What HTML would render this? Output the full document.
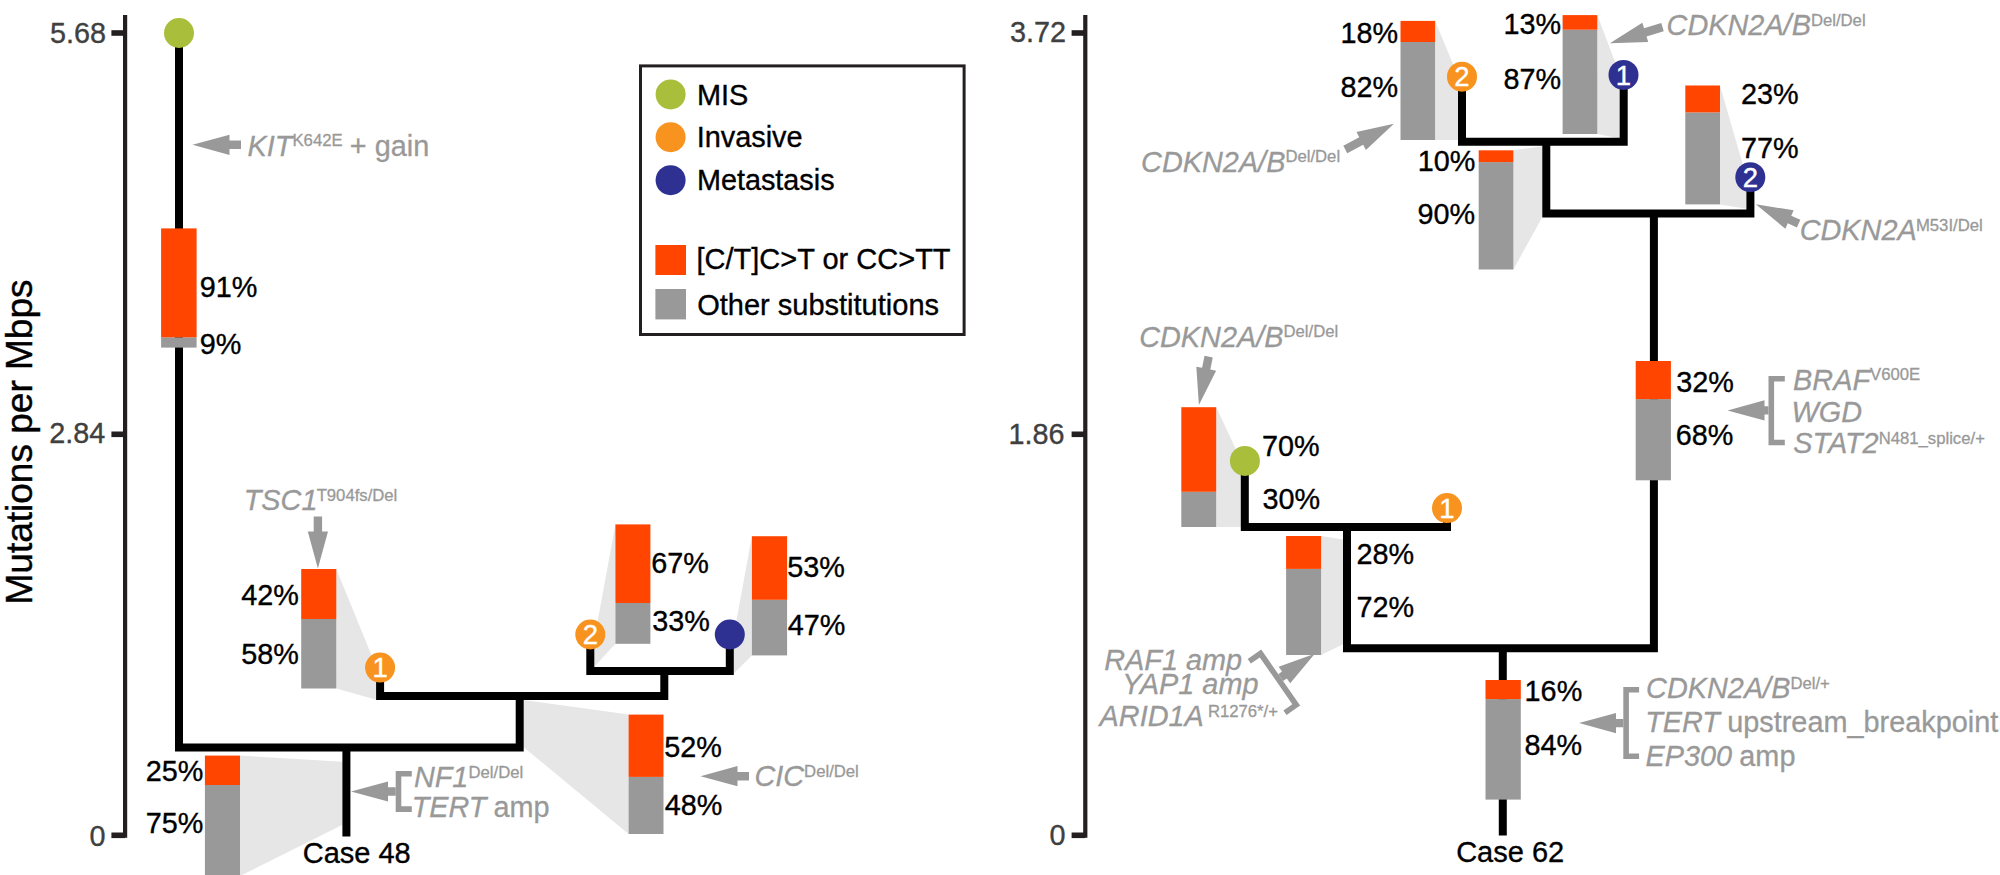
<!DOCTYPE html>
<html lang="en">
<head>
<meta charset="utf-8">
<title>Phylogenetic trees - Case 48 and Case 62</title>
<style>
html,body{margin:0;padding:0;background:#fff;}
body{width:2000px;height:875px;overflow:hidden;}
svg{display:block;font-family:"Liberation Sans",Arial,Helvetica,sans-serif;}
</style>
</head>
<body>
<svg width="2000" height="875" viewBox="0 0 2000 875">
<rect width="2000" height="875" fill="#ffffff"/>
<polygon fill="#e6e6e6" points="240,755.6 342.6,761.8 342.6,824.7 240,876"/>
<polygon fill="#e6e6e6" points="336.3,569 376.3,667 376.3,699.7 336.3,688.5"/>
<polygon fill="#e6e6e6" points="523.5,700 628.6,714.6 628.6,834 523.5,747"/>
<polygon fill="#e6e6e6" points="615.4,524.4 615.4,643.8 594,667 594,641"/>
<polygon fill="#e6e6e6" points="751.9,536.2 751.9,655.4 733.6,673.5 733.6,636"/>
<path d="M179,32.7 V747.6 H519.7 V695.9" fill="none" stroke="#000" stroke-width="8" stroke-linejoin="miter" stroke-linecap="butt"/>
<path d="M380.1,667.6 V695.9 H664.3 V670.7" fill="none" stroke="#000" stroke-width="8" stroke-linejoin="miter" stroke-linecap="butt"/>
<path d="M590.3,634.5 V670.9 H729.8 V634.5" fill="none" stroke="#000" stroke-width="8" stroke-linejoin="miter" stroke-linecap="butt"/>
<path d="M346.4,747.6 V836.5" fill="none" stroke="#000" stroke-width="8" stroke-linejoin="miter" stroke-linecap="butt"/>
<rect x="161.1" y="337.3" width="35.5" height="10.3" fill="#999999"/>
<rect x="161.1" y="228.4" width="35.5" height="108.9" fill="#ff4500"/>
<rect x="301.2" y="619" width="35.1" height="69.5" fill="#999999"/>
<rect x="301.2" y="569" width="35.1" height="50" fill="#ff4500"/>
<rect x="204.9" y="785" width="35.1" height="91" fill="#999999"/>
<rect x="204.9" y="755.6" width="35.1" height="29.4" fill="#ff4500"/>
<rect x="615.4" y="603" width="35" height="40.8" fill="#999999"/>
<rect x="615.4" y="524.4" width="35" height="78.6" fill="#ff4500"/>
<rect x="751.9" y="599.8" width="35.2" height="55.6" fill="#999999"/>
<rect x="751.9" y="536.2" width="35.2" height="63.6" fill="#ff4500"/>
<rect x="628.6" y="776.9" width="34.9" height="57.1" fill="#999999"/>
<rect x="628.6" y="714.6" width="34.9" height="62.3" fill="#ff4500"/>
<circle cx="179" cy="33" r="15" fill="#a9be3b"/>
<circle cx="380.1" cy="667.6" r="15" fill="#f7931e"/>
<text x="380.1" y="677.3" font-size="27.5" fill="#fff" stroke="#fff" stroke-width="0.4" text-anchor="middle">1</text>
<circle cx="590.3" cy="634.5" r="15" fill="#f7931e"/>
<text x="590.3" y="644.2" font-size="27.5" fill="#fff" stroke="#fff" stroke-width="0.4" text-anchor="middle">2</text>
<circle cx="729.8" cy="634.5" r="15" fill="#2e3192"/>
<path d="M125.1,15 V837.8" fill="none" stroke="#231f20" stroke-width="4.2" stroke-linejoin="miter" stroke-linecap="butt"/>
<path d="M111.4,33 H125.1" fill="none" stroke="#231f20" stroke-width="5.6" stroke-linejoin="miter" stroke-linecap="butt"/>
<path d="M111.4,434.3 H125.1" fill="none" stroke="#231f20" stroke-width="5.6" stroke-linejoin="miter" stroke-linecap="butt"/>
<path d="M111.4,835.3 H125.1" fill="none" stroke="#231f20" stroke-width="5.6" stroke-linejoin="miter" stroke-linecap="butt"/>
<text x="49.95" y="42.5" font-size="28.8" fill="#404040" stroke="#404040" stroke-width="0.35">5.68</text>
<text x="49.15" y="443.4" font-size="28.8" fill="#404040" stroke="#404040" stroke-width="0.35">2.84</text>
<text x="89.38" y="845.5" font-size="28.8" fill="#404040" stroke="#404040" stroke-width="0.35">0</text>
<text transform="translate(32.2 442) rotate(-90)" font-size="37" text-anchor="middle" fill="#000" stroke="#000" stroke-width="0.4">Mutations per Mbps</text>
<text x="199.65" y="296.8" font-size="28.8" fill="#000" stroke="#000" stroke-width="0.35">91%</text>
<text x="199.65" y="353.8" font-size="28.8" fill="#000" stroke="#000" stroke-width="0.35">9%</text>
<text x="241.28" y="605" font-size="28.8" fill="#000" stroke="#000" stroke-width="0.35">42%</text>
<text x="241.28" y="664.3" font-size="28.8" fill="#000" stroke="#000" stroke-width="0.35">58%</text>
<text x="145.78" y="781.4" font-size="28.8" fill="#000" stroke="#000" stroke-width="0.35">25%</text>
<text x="145.78" y="832.9" font-size="28.8" fill="#000" stroke="#000" stroke-width="0.35">75%</text>
<text x="651.14" y="572.9" font-size="28.8" fill="#000" stroke="#000" stroke-width="0.35">67%</text>
<text x="652.2" y="630.6" font-size="28.8" fill="#000" stroke="#000" stroke-width="0.35">33%</text>
<text x="787.25" y="577.2" font-size="28.8" fill="#000" stroke="#000" stroke-width="0.35">53%</text>
<text x="787.74" y="634.5" font-size="28.8" fill="#000" stroke="#000" stroke-width="0.35">47%</text>
<text x="664.35" y="757" font-size="28.8" fill="#000" stroke="#000" stroke-width="0.35">52%</text>
<text x="664.84" y="814.8" font-size="28.8" fill="#000" stroke="#000" stroke-width="0.35">48%</text>
<text x="302.73" y="863.4" font-size="29" fill="#000" stroke="#000" stroke-width="0.35">Case 48</text>
<polygon fill="#999999" transform="translate(192.5 144.8) rotate(0)" points="0,0 37,-10.1 37,-4.2 48.5,-4.2 48.5,4.2 37,4.2 37,10.1"/>
<text x="247.61" y="155.7" font-size="28.85" fill="#999999" stroke="#999999" stroke-width="0.3" xml:space="preserve"><tspan font-style="italic">KIT</tspan><tspan font-size="16.7" dy="-9.3">K642E</tspan><tspan dy="9.3" dx="-0.8"> + gain</tspan></text>
<polygon fill="#999999" transform="translate(317.9 568.5) rotate(-90)" points="0,0 37,-10.1 37,-4.2 52,-4.2 52,4.2 37,4.2 37,10.1"/>
<text x="243.71" y="509.9" font-size="28.85" fill="#999999" stroke="#999999" stroke-width="0.3" xml:space="preserve"><tspan font-style="italic">TSC1</tspan><tspan font-size="16.7" dy="-9.3" dx="-0.8">T904fs/Del</tspan></text>
<polygon fill="#999999" points="351,791.5 388,781.4 388,787.3 395.7,787.3 395.7,795.7 388,795.7 388,801.6"/>
<path fill="#999999" d="M395.7,771 H411.8 V776.6 H401.3 V806.3 H411.8 V811.9 H395.7 Z"/>
<text x="413.91" y="787.4" font-size="28.85" fill="#999999" stroke="#999999" stroke-width="0.3" xml:space="preserve"><tspan font-style="italic">NF1</tspan><tspan font-size="16.7" dy="-9.3" dx="0.1">Del/Del</tspan></text>
<text x="411.71" y="816.6" font-size="28.85" fill="#999999" stroke="#999999" stroke-width="0.3" xml:space="preserve"><tspan font-style="italic">TERT</tspan><tspan dx="-1.1"> amp</tspan></text>
<polygon fill="#999999" transform="translate(700.5 776.2) rotate(0)" points="0,0 37,-10.1 37,-4.2 48.5,-4.2 48.5,4.2 37,4.2 37,10.1"/>
<text x="754.41" y="786.2" font-size="28.85" fill="#999999" stroke="#999999" stroke-width="0.3" xml:space="preserve"><tspan font-style="italic">CIC</tspan><tspan font-size="16.7" dy="-9.3">Del/Del</tspan></text>
<rect x="640.5" y="65.9" width="323.6" height="268.6" fill="none" stroke="#231f20" stroke-width="3"/>
<circle cx="670.6" cy="94.4" r="15" fill="#a9be3b"/>
<circle cx="670.6" cy="137.2" r="15" fill="#f7931e"/>
<circle cx="670.6" cy="180.2" r="15" fill="#2e3192"/>
<rect x="655.4" y="245" width="30.6" height="30" fill="#ff4500"/>
<rect x="655.4" y="289" width="30.6" height="30.4" fill="#999999"/>
<text x="696.93" y="105" font-size="28.9" fill="#000" stroke="#000" stroke-width="0.35">MIS</text>
<text x="696.63" y="147.4" font-size="28.9" fill="#000" stroke="#000" stroke-width="0.35">Invasive</text>
<text x="696.94" y="190" font-size="28.8" fill="#000" stroke="#000" stroke-width="0.35">Metastasis</text>
<text x="696.53" y="268.9" font-size="29" fill="#000" stroke="#000" stroke-width="0.35">[C/T]C&gt;T or CC&gt;TT</text>
<text x="697.23" y="315" font-size="29" fill="#000" stroke="#000" stroke-width="0.35">Other substitutions</text>
<polygon fill="#e6e6e6" points="1435.1,20.9 1458.3,76.7 1458.3,140 1435.1,140"/>
<polygon fill="#e6e6e6" points="1597.3,15.1 1620,74.9 1620,138.5 1597.3,134"/>
<polygon fill="#e6e6e6" points="1720,85.5 1746.4,177 1746.4,208.8 1720,204.4"/>
<polygon fill="#e6e6e6" points="1513.4,150.3 1542.5,146.3 1542.5,216.7 1513.4,269.5"/>
<polygon fill="#e6e6e6" points="1216.2,407 1240.9,460 1240.9,527 1216.2,527"/>
<polygon fill="#e6e6e6" points="1321.1,536 1343.2,539.5 1343.2,644.2 1321.1,655"/>
<path d="M1462,76.7 V141.8 H1623.7 V74.9" fill="none" stroke="#000" stroke-width="8" stroke-linejoin="miter" stroke-linecap="butt"/>
<path d="M1546.3,141.8 V213.4 H1750.4 V177.2" fill="none" stroke="#000" stroke-width="8" stroke-linejoin="miter" stroke-linecap="butt"/>
<path d="M1653.9,213.4 V648.2 H1347 V527" fill="none" stroke="#000" stroke-width="8" stroke-linejoin="miter" stroke-linecap="butt"/>
<path d="M1244.8,460.9 V527 H1447 V508.1" fill="none" stroke="#000" stroke-width="8" stroke-linejoin="miter" stroke-linecap="butt"/>
<path d="M1502.8,648.2 V835.5" fill="none" stroke="#000" stroke-width="8" stroke-linejoin="miter" stroke-linecap="butt"/>
<rect x="1400.5" y="42" width="34.6" height="98" fill="#999999"/>
<rect x="1400.5" y="20.9" width="34.6" height="21.1" fill="#ff4500"/>
<rect x="1562.6" y="29.7" width="34.7" height="104.3" fill="#999999"/>
<rect x="1562.6" y="15.1" width="34.7" height="14.6" fill="#ff4500"/>
<rect x="1685.3" y="112.4" width="34.7" height="92" fill="#999999"/>
<rect x="1685.3" y="85.5" width="34.7" height="26.9" fill="#ff4500"/>
<rect x="1478.7" y="162.1" width="34.7" height="107.4" fill="#999999"/>
<rect x="1478.7" y="150.3" width="34.7" height="11.8" fill="#ff4500"/>
<rect x="1635.7" y="399.1" width="35.2" height="81.2" fill="#999999"/>
<rect x="1635.7" y="361" width="35.2" height="38.1" fill="#ff4500"/>
<rect x="1181.3" y="491.8" width="34.9" height="35.2" fill="#999999"/>
<rect x="1181.3" y="407.2" width="34.9" height="84.6" fill="#ff4500"/>
<rect x="1286.1" y="568.9" width="35" height="86.1" fill="#999999"/>
<rect x="1286.1" y="536" width="35" height="32.9" fill="#ff4500"/>
<rect x="1485.5" y="699.1" width="35.3" height="100.5" fill="#999999"/>
<rect x="1485.5" y="680" width="35.3" height="19.1" fill="#ff4500"/>
<circle cx="1462" cy="76.7" r="15" fill="#f7931e"/>
<text x="1462" y="86.4" font-size="27.5" fill="#fff" stroke="#fff" stroke-width="0.4" text-anchor="middle">2</text>
<circle cx="1623.5" cy="74.9" r="15" fill="#2e3192"/>
<text x="1623.5" y="84.6" font-size="27.5" fill="#fff" stroke="#fff" stroke-width="0.4" text-anchor="middle">1</text>
<circle cx="1750.3" cy="177.2" r="15" fill="#2e3192"/>
<text x="1750.3" y="186.9" font-size="27.5" fill="#fff" stroke="#fff" stroke-width="0.4" text-anchor="middle">2</text>
<circle cx="1244.9" cy="460.9" r="15" fill="#a9be3b"/>
<circle cx="1447" cy="508.1" r="15" fill="#f7931e"/>
<text x="1447" y="517.8" font-size="27.5" fill="#fff" stroke="#fff" stroke-width="0.4" text-anchor="middle">1</text>
<path d="M1085.3,15 V837.8" fill="none" stroke="#231f20" stroke-width="4.2" stroke-linejoin="miter" stroke-linecap="butt"/>
<path d="M1071.6,33 H1085.3" fill="none" stroke="#231f20" stroke-width="5.6" stroke-linejoin="miter" stroke-linecap="butt"/>
<path d="M1071.6,434.3 H1085.3" fill="none" stroke="#231f20" stroke-width="5.6" stroke-linejoin="miter" stroke-linecap="butt"/>
<path d="M1071.6,835.3 H1085.3" fill="none" stroke="#231f20" stroke-width="5.6" stroke-linejoin="miter" stroke-linecap="butt"/>
<text x="1010" y="42.1" font-size="28.8" fill="#404040" stroke="#404040" stroke-width="0.35">3.72</text>
<text x="1008.41" y="443.9" font-size="28.8" fill="#404040" stroke="#404040" stroke-width="0.35">1.86</text>
<text x="1049.58" y="844.8" font-size="28.8" fill="#404040" stroke="#404040" stroke-width="0.35">0</text>
<text x="1340.58" y="42.9" font-size="28.8" fill="#000" stroke="#000" stroke-width="0.35">18%</text>
<text x="1340.58" y="97" font-size="28.8" fill="#000" stroke="#000" stroke-width="0.35">82%</text>
<text x="1503.48" y="34.1" font-size="28.8" fill="#000" stroke="#000" stroke-width="0.35">13%</text>
<text x="1503.38" y="89" font-size="28.8" fill="#000" stroke="#000" stroke-width="0.35">87%</text>
<text x="1741.05" y="103.7" font-size="28.8" fill="#000" stroke="#000" stroke-width="0.35">23%</text>
<text x="1741.02" y="157.5" font-size="28.8" fill="#000" stroke="#000" stroke-width="0.35">77%</text>
<text x="1417.78" y="170.5" font-size="28.8" fill="#000" stroke="#000" stroke-width="0.35">10%</text>
<text x="1417.58" y="223.6" font-size="28.8" fill="#000" stroke="#000" stroke-width="0.35">90%</text>
<text x="1262.02" y="455.6" font-size="28.8" fill="#000" stroke="#000" stroke-width="0.35">70%</text>
<text x="1262.4" y="508.6" font-size="28.8" fill="#000" stroke="#000" stroke-width="0.35">30%</text>
<text x="1356.55" y="563.9" font-size="28.8" fill="#000" stroke="#000" stroke-width="0.35">28%</text>
<text x="1356.52" y="616.7" font-size="28.8" fill="#000" stroke="#000" stroke-width="0.35">72%</text>
<text x="1676.3" y="391.7" font-size="28.8" fill="#000" stroke="#000" stroke-width="0.35">32%</text>
<text x="1675.74" y="445.3" font-size="28.8" fill="#000" stroke="#000" stroke-width="0.35">68%</text>
<text x="1524.61" y="700.9" font-size="28.8" fill="#000" stroke="#000" stroke-width="0.35">16%</text>
<text x="1524.55" y="754.6" font-size="28.8" fill="#000" stroke="#000" stroke-width="0.35">84%</text>
<text x="1456.13" y="862.4" font-size="29" fill="#000" stroke="#000" stroke-width="0.35">Case 62</text>
<polygon fill="#999999" transform="translate(1393.9 123.7) rotate(152.1)" points="0,0 37,-10.1 37,-4.2 55,-4.2 55,4.2 37,4.2 37,10.1"/>
<text x="1141.11" y="171.6" font-size="28.85" fill="#999999" stroke="#999999" stroke-width="0.3" xml:space="preserve"><tspan font-style="italic">CDKN2A/B</tspan><tspan font-size="16.7" dy="-9.3">Del/Del</tspan></text>
<polygon fill="#999999" transform="translate(1609.9 43.2) rotate(-17)" points="0,0 37,-10.1 37,-4.2 55,-4.2 55,4.2 37,4.2 37,10.1"/>
<text x="1666.61" y="34.8" font-size="28.85" fill="#999999" stroke="#999999" stroke-width="0.3" xml:space="preserve"><tspan font-style="italic">CDKN2A/B</tspan><tspan font-size="16.7" dy="-9.3">Del/Del</tspan></text>
<polygon fill="#999999" transform="translate(1755.8 204.3) rotate(24.3)" points="0,0 37,-10.1 37,-4.2 47,-4.2 47,4.2 37,4.2 37,10.1"/>
<text x="1799.71" y="239.8" font-size="28.85" fill="#999999" stroke="#999999" stroke-width="0.3" xml:space="preserve"><tspan font-style="italic">CDKN2A</tspan><tspan font-size="16.7" dy="-9.3" dx="-0.8">M53I/Del</tspan></text>
<polygon fill="#999999" transform="translate(1198.9 404.9) rotate(-78.6)" points="0,0 37,-10.1 37,-4.2 49.3,-4.2 49.3,4.2 37,4.2 37,10.1"/>
<text x="1139.21" y="346.5" font-size="28.85" fill="#999999" stroke="#999999" stroke-width="0.3" xml:space="preserve"><tspan font-style="italic">CDKN2A/B</tspan><tspan font-size="16.7" dy="-9.3">Del/Del</tspan></text>
<polygon fill="#999999" points="1727.5,410.4 1764.5,400.3 1764.5,406.2 1768.5,406.2 1768.5,414.6 1764.5,414.6 1764.5,420.5"/>
<path fill="#999999" d="M1768.5,376 H1784.8 V381.6 H1774.1 V439.7 H1784.8 V445.3 H1768.5 Z"/>
<text x="1793.11" y="389.5" font-size="28.85" fill="#999999" stroke="#999999" stroke-width="0.3" xml:space="preserve"><tspan font-style="italic">BRAF</tspan><tspan font-size="16.7" dy="-9.3">V600E</tspan></text>
<text x="1791.51" y="421.5" font-size="28.85" fill="#999999" stroke="#999999" stroke-width="0.3" xml:space="preserve"><tspan font-style="italic">WGD</tspan></text>
<text x="1793.18" y="453.1" font-size="28.85" fill="#999999" stroke="#999999" stroke-width="0.3" xml:space="preserve"><tspan font-style="italic">STAT2</tspan><tspan font-size="16.7" dy="-9.3">N481_splice/+</tspan></text>
<polygon fill="#999999" points="1579,723.1 1616,713 1616,718.9 1623.3,718.9 1623.3,727.3 1616,727.3 1616,733.2"/>
<path fill="#999999" d="M1623.3,686.9 H1639.1 V692.5 H1628.9 V753.4 H1639.1 V759 H1623.3 Z"/>
<text x="1646.11" y="698.3" font-size="28.85" fill="#999999" stroke="#999999" stroke-width="0.3" xml:space="preserve"><tspan font-style="italic">CDKN2A/B</tspan><tspan font-size="16.7" dy="-9.3">Del/+</tspan></text>
<text x="1645.21" y="731.5" font-size="28.85" fill="#999999" stroke="#999999" stroke-width="0.3" xml:space="preserve"><tspan font-style="italic">TERT</tspan><tspan dx="-0.8"> upstream_breakpoint</tspan></text>
<text x="1645.51" y="765.5" font-size="28.85" fill="#999999" stroke="#999999" stroke-width="0.3" xml:space="preserve"><tspan font-style="italic">EP300</tspan><tspan dx="-0.8"> amp</tspan></text>
<g transform="translate(1278.2 679.3) rotate(145.2)">
<polygon fill="#999999" points="-44.6,0 -7.6,-10.1 -7.6,-4.2 -3,-4.2 -3,4.2 -7.6,4.2 -7.6,10.1"/>
<path fill="#999999" d="M-3,-34.1 H13.5 V-28.5 H2.6 V28.5 H13.5 V34.1 H-3 Z"/>
</g>
<text x="1104.21" y="670.1" font-size="28.85" fill="#999999" stroke="#999999" stroke-width="0.3" xml:space="preserve"><tspan font-style="italic">RAF1 amp</tspan></text>
<text x="1122.2" y="694.2" font-size="28.85" fill="#999999" stroke="#999999" stroke-width="0.3" xml:space="preserve"><tspan font-style="italic">YAP1 amp</tspan></text>
<text x="1099.62" y="725.9" font-size="28.85" fill="#999999" stroke="#999999" stroke-width="0.3" xml:space="preserve"><tspan font-style="italic">ARID1A</tspan><tspan font-size="16.7" dy="-9.3" dx="-0.5"> R1276*/+</tspan></text>
</svg>
</body>
</html>
